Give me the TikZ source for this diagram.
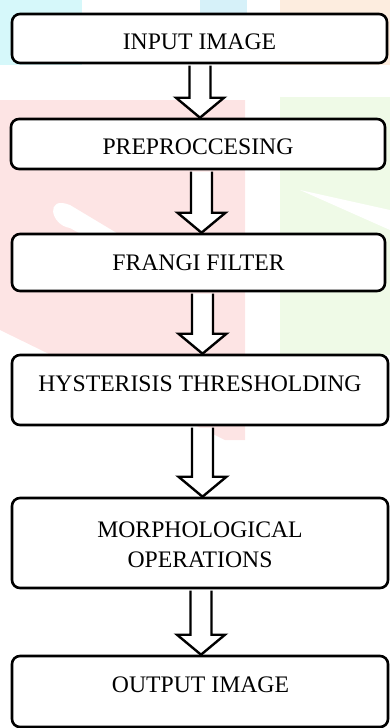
\documentclass[tikz,border=0pt]{standalone}
\usepackage{fontspec}
\setmainfont{Liberation Serif}
\usetikzlibrary{calc}
\definecolor{wmcyan}{HTML}{D6F8FA}
\definecolor{wmblue}{HTML}{D6F1F9}
\definecolor{wmpeach}{HTML}{FDEDDF}
\definecolor{wmpink}{HTML}{FDE4E4}
\definecolor{wmgreen}{HTML}{EFFAE7}
\newcommand{\blockarr}[3]{%
  \path[barrow] let \p1=(#1.south), \p2=(#2.north) in
  (\x1+#3pt-10.5pt,\y1-1.3pt) -- (\x1+#3pt-10.5pt,\y2+20pt) -- (\x1+#3pt-24pt,\y2+20pt) --
  (\x1+#3pt,\y2) -- (\x1+#3pt+24pt,\y2+20pt) -- (\x1+#3pt+10.5pt,\y2+20pt) --
  (\x1+#3pt+10.5pt,\y1-1.3pt);}
\begin{document}
\begin{tikzpicture}[x=1pt,y=-1pt,
  box/.style={draw=black, line width=2.6pt, rounded corners=8pt, fill=white, inner sep=0pt},
  lbl/.style={font=\fontsize{23.7}{30}\selectfont, align=center, inner sep=0pt},
  barrow/.style={draw=black, fill=white, line width=2.4pt, line join=miter}]
\useasboundingbox (0,0) rectangle (390,728);
\clip (0,0) rectangle (390,728);
% faint background watermark
\fill[wmcyan] (0,0) rectangle (82,65);
\fill[wmblue] (200,0) rectangle (247,20);
\fill[wmpeach] (280,0) rectangle (390,65);
\fill[wmpink] (0,100) -- (245,100) -- (245,440) -- (225,440) -- (0,330) -- cycle;
\fill[white] (120,235) -- (70,205) .. controls (45,195) and (50,225) .. (70,228) -- (110,250) -- cycle;
\fill[wmgreen] (280,97) rectangle (390,355);
\fill[white] (300,190) -- (390,210) -- (390,230) -- cycle;
% boxes
\node[box, minimum width=375pt, minimum height=49pt] (b1) at (199.5,38.5) {};
\node[box, minimum width=374pt, minimum height=50pt] (b2) at (198,144) {};
\node[box, minimum width=373pt, minimum height=57pt] (b3) at (198.5,262.5) {};
\node[box, minimum width=376pt, minimum height=70pt] (b4) at (200,390) {};
\node[box, minimum width=376pt, minimum height=90pt] (b5) at (200,543) {};
\node[box, minimum width=376pt, minimum height=71pt] (b6) at (200,691.5) {};
% labels
\node[lbl] (t1) at (199.5,42) {INPUT IMAGE};
\node[lbl] (t2) at (198,147) {PREPROCCESING};
\node[lbl] (t3) at (198.5,263) {FRANGI FILTER};
\node[lbl] (t4) at (200,384) {HYSTERISIS THRESHOLDING};
\node[lbl] (t5) at (200,545) {MORPHOLOGICAL\\OPERATIONS};
\node[lbl] (t6) at (200.5,685) {OUTPUT IMAGE};
% block arrows
\blockarr{b1}{b2}{0.5}
\blockarr{b2}{b3}{3.5}
\blockarr{b3}{b4}{4}
\blockarr{b4}{b5}{2.5}
\blockarr{b5}{b6}{1}
\end{tikzpicture}
\end{document}
